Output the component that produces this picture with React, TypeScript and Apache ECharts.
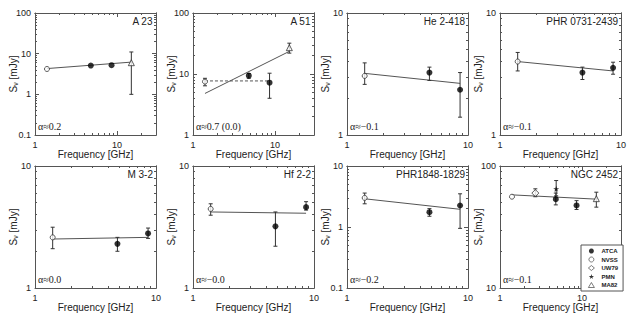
import React, { useEffect, useRef } from 'react';
import * as echarts from 'echarts';

// ---------- data ----------
const panelNames = ['A 23', 'A 51', 'He 2-418', 'PHR 0731-2439', 'M 3-2', 'Hf 2-2', 'PHR1848-1829', 'NGC 2452'];
const alphaLabels = ['α≈0.2', 'α≈0.7 (0.0)', 'α≈−0.1', 'α≈−0.1', 'α≈0.0', 'α≈−0.0', 'α≈−0.2', 'α≈−0.1'];
const xRanges = [[1, 30], [1, 30], [1, 10], [1, 10], [1, 10], [1, 10], [1, 10], [1, 30]];
const yRanges = [[0.1, 100], [1, 100], [1, 10], [1, 10], [1, 10], [1, 10], [0.1, 10], [10, 100]];

// [frequency GHz, flux mJy]
const atcaPoints = [
  [[4.8, 5.1], [8.6, 5.2]],
  [[4.8, 9.4], [8.6, 7.2]],
  [[4.8, 3.25], [8.6, 2.35]],
  [[4.8, 3.25], [8.6, 3.55]],
  [[4.8, 2.3], [8.6, 2.8]],
  [[4.8, 3.2], [8.6, 4.6]],
  [[4.8, 1.75], [8.6, 2.25]],
  [[4.8, 53.5], [8.6, 47.5]],
];
// [frequency, low, high]
const atcaErrors = [
  [],
  [[4.8, 8.5, 10.2], [8.6, 4.0, 10.3]],
  [[4.8, 2.8, 3.6], [8.6, 1.4, 3.25]],
  [[4.8, 2.85, 3.6], [8.6, 3.15, 3.95]],
  [[4.8, 2.0, 2.6], [8.6, 2.55, 3.1]],
  [[4.8, 2.2, 4.2], [8.6, 4.35, 5.1]],
  [[4.8, 1.5, 2.0], [8.6, 0.95, 3.5]],
  [[4.8, 48, 60], [8.6, 44, 52]],
];
const nvssPoints = [
  [[1.4, 4.2]], [[1.4, 7.5]], [[1.4, 3.05]], [[1.4, 4.0]],
  [[1.4, 2.6]], [[1.4, 4.45]], [[1.4, 3.0]], [[1.4, 56]],
];
const nvssErrors = [
  [], [[1.4, 6.4, 8.5]], [[1.4, 2.6, 3.9]], [[1.4, 3.35, 4.75]],
  [[1.4, 2.1, 3.15]], [[1.4, 3.95, 4.9]], [[1.4, 2.4, 3.6]], [],
];
const uw79Points = [[], [], [], [], [], [], [], [[2.7, 60]]];
const uw79Errors = [[], [], [], [], [], [], [], [[2.7, 56, 65]]];
const pmnPoints = [[], [], [], [], [], [], [], [[4.85, 65]]];
const pmnErrors = [[], [], [], [], [], [], [], [[4.85, 57, 76]]];
const ma82Points = [[[15, 6.0]], [[15, 27]], [], [], [], [], [], [[15, 54]]];
const ma82Errors = [[[15, 1.0, 11]], [[15, 22, 32]], [], [], [], [], [], [[15, 46, 61]]];
const fitLines = [
  [[1.4, 4.3], [15, 6.2]],
  [[1.4, 4.8], [15, 23.5]],
  [[1.4, 3.2], [8.6, 2.65]],
  [[1.4, 4.0], [8.6, 3.35]],
  [[1.4, 2.52], [8.6, 2.6]],
  [[1.4, 4.2], [8.6, 4.1]],
  [[1.4, 2.9], [8.6, 1.95]],
  [[1.4, 58], [15, 53.5]],
];
const flatFitLines = [[], [[1.4, 7.7], [8.6, 7.7]], [], [], [], [], [], []];
const legendNames = ['ATCA', 'NVSS', 'UW79', 'PMN', 'MA82'];

// ---------- layout ----------
const LEFTS = [35, 193, 347, 500];
const TOPS = [13, 166];
const W = 121;
const H = 122;
const LINE = '#555';
const TEXT = '#222';
const SANS = '"Liberation Sans", Arial, sans-serif';
const SERIF = '"Liberation Serif", "Times New Roman", serif';
const STAR = 'path://M50,0 L61,35 L98,35 L68,57 L79,91 L50,70 L21,91 L32,57 L2,35 L39,35 Z';

const fix = (v: number) => Number(v.toPrecision(6));
function majors(r: number[]) {
  const out: number[] = [];
  for (let d = Math.floor(Math.log10(r[0]) - 1e-9); d <= Math.ceil(Math.log10(r[1])); d++) {
    const v = fix(Math.pow(10, d));
    if (v >= r[0] - 1e-9 && v <= r[1] + 1e-9) out.push(v);
  }
  return out;
}
function minors(r: number[]) {
  const out: number[] = [];
  for (let d = Math.floor(Math.log10(r[0]) - 1e-9); d <= Math.ceil(Math.log10(r[1])); d++) {
    for (let k = 2; k <= 9; k++) {
      const v = fix(k * Math.pow(10, d));
      if (v > r[0] && v < r[1]) out.push(v);
    }
  }
  return out;
}

function errorRender(params: any, api: any) {
  const x = api.value(0);
  const a = api.coord([x, api.value(1)]);
  const b = api.coord([x, api.value(2)]);
  const style = { stroke: '#333', lineWidth: 1 };
  return {
    type: 'group',
    children: [
      { type: 'line', shape: { x1: a[0], y1: a[1], x2: b[0], y2: b[1] }, style },
      { type: 'line', shape: { x1: a[0] - 2, y1: a[1], x2: a[0] + 2, y2: a[1] }, style },
      { type: 'line', shape: { x1: b[0] - 2, y1: b[1], x2: b[0] + 2, y2: b[1] }, style },
    ],
  };
}

function buildOption() {
  const grid: any[] = [];
  const xAxis: any[] = [];
  const yAxis: any[] = [];
  const series: any[] = [];
  const title: any[] = [];

  for (let i = 0; i < 8; i++) {
    const left = LEFTS[i % 4];
    const top = TOPS[Math.floor(i / 4)];
    grid.push({ left, top, width: W, height: H, containLabel: false });
    const xr = xRanges[i];
    const yr = yRanges[i];
    const mk = (dim: 'x' | 'y', pos: string, isMajor: boolean, main: boolean) => {
      const r = dim === 'x' ? xr : yr;
      const ax: any = {
        type: 'log',
        logBase: 10,
        gridIndex: i,
        position: pos,
        min: r[0],
        max: r[1],
        axisLine: { show: main || pos === 'top' || pos === 'right', onZero: false, lineStyle: { color: LINE, width: 1 } },
        axisTick: {
          show: true,
          inside: true,
          length: isMajor ? 4 : 2,
          customValues: isMajor ? majors(r) : minors(r),
          lineStyle: { color: LINE, width: 1 },
        },
        axisLabel: { show: false },
        splitLine: { show: false },
      };
      if (main) {
        ax.axisLabel = {
          show: true,
          customValues: majors(r),
          formatter: (v: number) => String(fix(v)),
          fontSize: 9,
          fontFamily: SANS,
          color: TEXT,
          margin: dim === 'x' ? 5 : 4,
        };
        ax.nameMoveOverlap = false;
        if (dim === 'x') {
          ax.name = 'Frequency [GHz]';
          ax.nameLocation = 'middle';
          ax.nameGap = 14;
          ax.nameTextStyle = { fontSize: 10, fontFamily: SANS, color: TEXT };
        } else {
          ax.name = 'S{sub|ν} [mJy]';
          ax.nameLocation = 'middle';
          ax.nameGap = 16;
          ax.nameTextStyle = {
            fontSize: 10,
            fontFamily: SANS,
            color: TEXT,
            rich: { sub: { fontSize: 7, fontFamily: SANS, color: TEXT, verticalAlign: 'bottom', padding: [4, 0, 0, 0] } },
          };
        }
      }
      return ax;
    };
    xAxis.push(mk('x', 'bottom', true, true), mk('x', 'bottom', false, false), mk('x', 'top', true, false), mk('x', 'top', false, false));
    yAxis.push(mk('y', 'left', true, true), mk('y', 'left', false, false), mk('y', 'right', true, false), mk('y', 'right', false, false));
    const xi = i * 4;
    const yi = i * 4;
    const base = { xAxisIndex: xi, yAxisIndex: yi };

    series.push({
      ...base, type: 'line', name: 'fit', data: fitLines[i], showSymbol: false, symbol: 'none',
      lineStyle: { color: LINE, width: 1 }, z: 2, silent: true,
    });
    if (flatFitLines[i].length) {
      series.push({
        ...base, type: 'line', name: 'fit0', data: flatFitLines[i], showSymbol: false, symbol: 'none',
        lineStyle: { color: LINE, width: 1, type: [3, 2] }, z: 2, silent: true,
      });
    }
    const errs = [...atcaErrors[i], ...nvssErrors[i], ...uw79Errors[i], ...pmnErrors[i], ...ma82Errors[i]];
    if (errs.length) {
      series.push({
        ...base, type: 'custom', name: 'err', data: errs, renderItem: errorRender,
        encode: { x: 0, y: [1, 2] }, z: 3, silent: true,
      });
    }
    const pt = (name: string, data: number[][], symbol: string, size: number, filled: boolean) => {
      series.push({
        ...base, type: 'scatter', name, data, symbol, symbolSize: size, z: 5,
        itemStyle: filled ? { color: '#000' } : { color: '#fff', borderColor: '#333', borderWidth: 1 },
      });
    };
    pt('ATCA', atcaPoints[i], 'circle', 6, true);
    pt('NVSS', nvssPoints[i], 'circle', 5, false);
    pt('UW79', uw79Points[i], 'diamond', 7, false);
    pt('PMN', pmnPoints[i], STAR, 6, true);
    pt('MA82', ma82Points[i], 'triangle', 6, false);

    title.push({
      text: panelNames[i], right: 629 - (left + W) + 3, top: top + 3, padding: 0,
      textStyle: { fontSize: 10, fontWeight: 'normal', fontFamily: SANS, color: TEXT },
    });
    title.push({
      text: alphaLabels[i], left: left + 3, top: top + H - 14, padding: 0,
      textStyle: { fontSize: 10, fontWeight: 'normal', fontFamily: SERIF, color: TEXT },
    });
  }

  return {
    animation: false,
    backgroundColor: '#fff',
    title,
    grid,
    xAxis,
    yAxis,
    series,
    legend: {
      data: legendNames,
      orient: 'vertical',
      left: 581,
      top: 245,
      itemWidth: 6,
      itemHeight: 5,
      itemGap: 2.5,
      padding: [3, 5, 3, 7],
      borderColor: LINE,
      borderWidth: 1,
      backgroundColor: '#fff',
      selectedMode: false,
      itemStyle: { borderWidth: 0.8 },
      textStyle: { fontSize: 6, fontWeight: 'bold', fontFamily: SANS, color: TEXT, padding: [0, 0, 0, 2] },
    },
  };
}

export default function App() {
  const ref = useRef<HTMLDivElement>(null);
  useEffect(() => {
    if (!ref.current) return;
    const chart = echarts.init(ref.current, null, { renderer: 'svg' });
    chart.setOption(buildOption() as any);
    return () => chart.dispose();
  }, []);
  return (
    <div
      ref={ref}
      style={{ position: 'fixed', left: 0, top: 0, width: 629, height: 316, background: '#fff' }}
    />
  );
}
